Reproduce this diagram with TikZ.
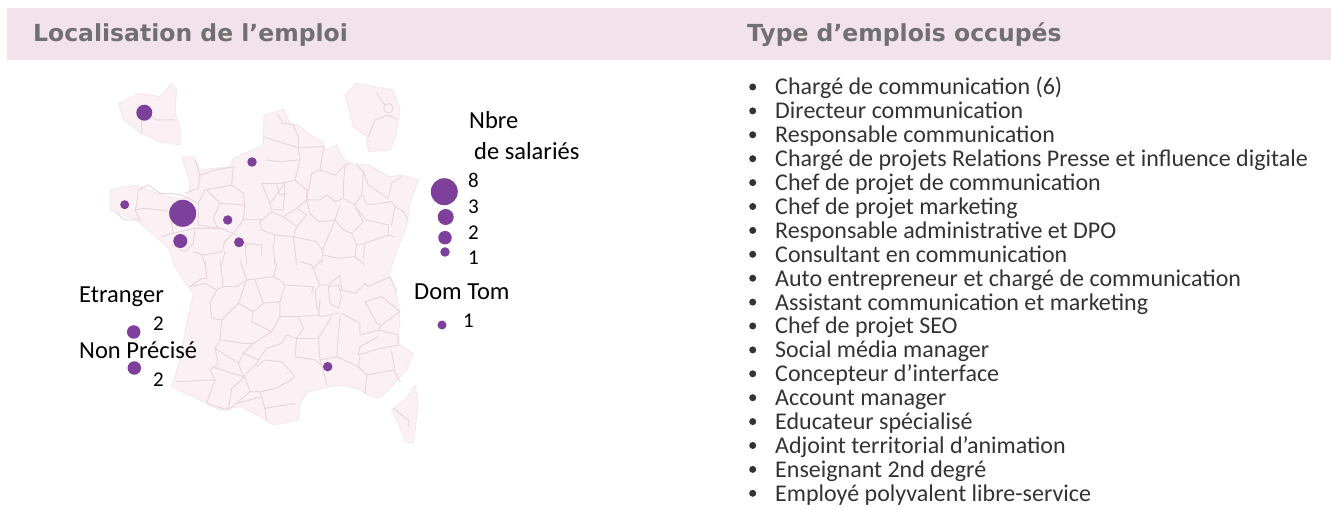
\documentclass[tikz,border=0pt]{standalone}
\usepackage{fontspec}
\setmainfont{Carlito}
\newfontfamily\headfont{DejaVu Sans}
\definecolor{band}{HTML}{F2E2EC}
\definecolor{headgrey}{HTML}{707070}
\definecolor{listgrey}{HTML}{333333}
\definecolor{landfill}{HTML}{FBF1F5}
\definecolor{landedge}{HTML}{F3E6EC}
\definecolor{landline}{HTML}{E8D5DD}
\definecolor{bubble}{HTML}{7D409B}
\tikzset{
  heading/.style={anchor=base west,inner sep=0pt,text=headgrey,font=\headfont\bfseries\fontsize{23.5}{23.5}\selectfont},
  itemtext/.style={anchor=base west,inner sep=0pt,text=listgrey,font=\fontsize{24}{24}\selectfont},
  dotmark/.style={circle,fill=listgrey,inner sep=0pt,minimum size=7pt},
  legendtext/.style={anchor=base west,inner sep=0pt,text=black,font=\fontsize{24.5}{24.5}\selectfont},
  legendnum/.style={anchor=base west,inner sep=0pt,text=black,font=\fontsize{21}{21}\selectfont},
  land/.style={fill=landfill,draw=landedge,line width=0.8pt,line join=round},
  dept/.style={draw=landline,line width=1pt,line join=round,line cap=round},
  bub/.style={circle,fill=bubble,inner sep=0pt,minimum size=#1}
}
\begin{document}
\begin{tikzpicture}[x=1pt,y=-1pt]
\useasboundingbox (0,0) rectangle (1331,510);
\fill[band] (7,8) rectangle (1331,60);
\node[heading] (h1) at (33,41.5) {Localisation de l’emploi};
\node[heading] (h2) at (747,41.5) {Type d’emplois occupés};

\begin{scope}[shift={(60,70)},x=0.33333pt,y=-0.33333pt]
% main land
\draw[land] (612,135)--(670,118)--(690,160)--(715,165)--(750,195)--(790,215)--(795,240)--(830,225)--(850,265)--(870,280)--(925,285)--(990,320)--(1030,315)--(1075,330)--(1050,400)--(1040,470)--(1010,540)--(985,620)--(1000,640)--(1015,700)--(1020,760)--(1010,810)--(1025,830)--(1060,850)--(1040,900)--(985,960)--(955,985)--(925,975)--(900,960)--(850,945)--(810,950)--(745,965)--(720,1000)--(715,1050)--(640,1065)--(600,1040)--(540,1010)--(480,1020)--(420,990)--(335,950)--(360,870)--(380,760)--(400,670)--(370,630)--(340,580)--(330,540)--(310,520)--(230,450)--(150,420)--(150,360)--(230,345)--(290,370)--(350,385)--(385,385)--(390,340)--(365,260)--(400,260)--(420,300)--(510,290)--(520,265)--(610,225)--cycle;
% Corsica
\draw[land] (1065,945)--(1075,1000)--(1060,1120)--(1035,1115)--(1015,1060)--(995,1020)--(1040,985)--cycle;
% insets
\draw[land] (175,100)--(240,70)--(300,80)--(335,40)--(350,60)--(345,130)--(360,170)--(360,225)--(300,215)--(245,190)--(190,150)--cycle;
\draw[land] (855,75)--(890,40)--(1000,60)--(1020,120)--(1010,190)--(990,240)--(925,245)--(920,200)--(880,170)--cycle;
\draw[dept] (245,190)--(245,120)--(290,150)--(345,150);
\draw[dept] (925,200)--(945,150)--(985,135)--(1015,150);
\draw[dept] (985,115) circle[radius=14];
\draw[dept] (950,70)--(975,105);
% north-east block
\begin{scope}[shift={(585,105)}]
\draw[dept] (65,25)--(85,55)--(115,60)--(130,95)--(130,128)--(205,125);
\draw[dept] (25,95)--(70,110)--(130,128);
\draw[dept] (130,128)--(135,165)--(120,225)--(155,255)--(155,285)--(125,310)--(85,335);
\draw[dept] (35,165)--(75,170)--(130,165);
\draw[dept] (20,235)--(80,235)--(120,225);
\draw[dept] (205,130)--(195,195)--(170,205)--(155,285);
\draw[dept] (195,195)--(240,210)--(270,180)--(285,175);
\draw[dept] (270,180)--(265,240)--(265,280)--(300,300)--(320,270)--(325,200)--(305,180);
\draw[dept] (325,200)--(340,240)--(400,280)--(410,235)--(440,215);
\draw[dept] (155,285)--(195,285)--(215,270)--(240,290)--(265,280);
\draw[dept] (155,285)--(165,325)--(190,350)--(240,345)--(255,300);
\draw[dept] (240,345)--(265,375)--(290,385)--(325,350)--(300,305);
\draw[dept] (325,270)--(335,300)--(410,290)--(420,305)--(410,360);
\draw[dept] (300,305)--(335,345)--(400,360)--(400,390)--(415,395);
\draw[dept] (125,310)--(155,330)--(125,365)--(115,395)--(185,410)--(205,440);
\draw[dept] (240,345)--(205,430)--(200,480);
\draw[dept] (290,385)--(305,420)--(330,415)--(400,390);
\draw[dept] (85,335)--(125,365);
\draw[dept] (15,350)--(50,320)--(85,335);
\draw[dept] (15,350)--(20,375)--(60,390)--(115,395);
\draw[dept] (60,390)--(55,430)--(60,480);
\draw[dept] (115,395)--(125,480);
\draw[dept] (205,450)--(250,460)--(300,455)--(305,420);
\draw[dept] (300,455)--(330,480);
\draw[dept] (330,415)--(325,460);
\draw[dept] (20,235)--(45,295)--(60,275)--(90,235);
\draw[dept] (45,295)--(50,315)--(85,315)--(90,240);
\draw[dept] (65,240)--(75,270)--(95,265);
\draw[dept] (420,305)--(445,320)--(460,345);
\end{scope}
% west block
\begin{scope}[shift={(135,105)}]
\draw[dept] (100,255)--(95,300)--(90,315)--(115,310)--(160,315)--(195,320);
\draw[dept] (100,255)--(130,240)--(165,265)--(200,265)--(230,270);
\draw[dept] (90,315)--(105,345)--(60,345)--(35,325);
\draw[dept] (195,320)--(205,385)--(170,395);
\draw[dept] (230,270)--(280,295)--(300,255)--(380,240)--(385,185);
\draw[dept] (270,165)--(285,210)--(280,250)--(240,265);
\draw[dept] (285,210)--(330,195)--(385,185);
\draw[dept] (380,240)--(415,265)--(420,305);
\draw[dept] (305,255)--(345,295);
\draw[dept] (280,295)--(280,360)--(340,370);
\draw[dept] (345,295)--(325,340)--(335,365)--(385,385)--(415,345)--(420,300)--(345,295);
\draw[dept] (205,385)--(270,370)--(340,370);
\draw[dept] (270,370)--(265,415)--(240,440)--(200,420);
\draw[dept] (265,440)--(295,450)--(350,440)--(360,410)--(385,385);
\draw[dept] (360,440)--(350,480);
\draw[dept] (290,450)--(300,480);
\draw[dept] (415,345)--(470,345);
\draw[dept] (385,385)--(420,415)--(470,420)--(470,450);
\draw[dept] (420,415)--(425,480);
\end{scope}
% south-west block
\begin{scope}[shift={(315,570)}]
\draw[dept] (75,80)--(110,55)--(125,55)--(120,0);
\draw[dept] (75,80)--(120,70)--(155,90)--(135,130)--(140,175)--(170,180)--(165,240)--(150,265)--(160,310)--(135,330)--(150,360);
\draw[dept] (155,90)--(175,80)--(165,0);
\draw[dept] (175,80)--(215,80)--(245,60)--(225,0);
\draw[dept] (245,60)--(325,50)--(335,15)--(330,0);
\draw[dept] (245,60)--(220,130)--(265,155)--(295,130)--(270,60);
\draw[dept] (295,130)--(345,125)--(360,75)--(345,60)--(325,50);
\draw[dept] (220,130)--(170,180);
\draw[dept] (265,155)--(260,185)--(320,215)--(345,170)--(345,125);
\draw[dept] (345,170)--(400,170)--(415,205)--(395,235)--(365,225)--(350,250)--(305,265);
\draw[dept] (320,215)--(265,250)--(235,280);
\draw[dept] (170,240)--(235,250)--(265,250);
\draw[dept] (150,265)--(220,310)--(235,280)--(280,300)--(305,265);
\draw[dept] (220,310)--(235,350)--(140,320);
\draw[dept] (235,350)--(275,310)--(280,300);
\draw[dept] (275,320)--(300,300)--(350,305)--(390,350)--(370,365)--(330,385)--(290,395);
\draw[dept] (395,235)--(390,290)--(450,300)--(470,315);
\draw[dept] (395,235)--(455,235);
\draw[dept] (400,170)--(460,165)--(465,120);
\draw[dept] (360,75)--(445,80)--(440,100);
\draw[dept] (150,360)--(35,365);
\draw[dept] (150,360)--(125,430)--(190,450)--(200,385)--(240,350);
\draw[dept] (190,450)--(255,395)--(240,350);
\draw[dept] (255,395)--(285,395)--(300,445)--(390,430);
\draw[dept] (215,430)--(290,410);
\draw[dept] (305,480)--(300,445);
\end{scope}
% south-east block
\begin{scope}[shift={(720,570)}]
\draw[dept] (0,5)--(35,15)--(60,75)--(85,75)--(120,45);
\draw[dept] (40,25)--(65,0);
\draw[dept] (115,75)--(125,110)--(115,145)--(90,130)--(85,80)--cycle;
\draw[dept] (60,75)--(45,90)--(50,140)--(60,170)--(115,160);
\draw[dept] (120,45)--(125,90)--(165,100)--(195,70)--(205,80)--(270,50)--(290,95);
\draw[dept] (195,125)--(245,110)--(300,155)--(245,195)--(230,190)--cycle;
\draw[dept] (125,160)--(180,190)--(180,225)--(235,210)--(245,195);
\draw[dept] (120,170)--(110,290);
\draw[dept] (110,290)--(60,300)--(55,235)--(95,170);
\draw[dept] (235,210)--(295,225)--(295,255)--(240,265)--(175,285)--(180,260)--(235,230);
\draw[dept] (110,290)--(175,320)--(200,345)--(195,400);
\draw[dept] (60,300)--(75,350)--(80,375);
\draw[dept] (200,345)--(280,330)--(300,365);
\draw[dept] (275,275)--(285,330);
\draw[dept] (175,320)--(180,290);
\draw[dept] (280,445)--(325,480)--(325,500);
\end{scope}
\end{scope}

% bubbles
\node[bub=16pt] (b1) at (144.3,112.7) {};
\node[bub=9.5pt] (b2) at (252,162) {};
\node[bub=9pt] (b3) at (124.7,204.7) {};
\node[bub=27pt] (b4) at (182.7,213.3) {};
\node[bub=9.5pt] (b5) at (227.7,220) {};
\node[bub=14pt] (b6) at (180.3,241) {};
\node[bub=10pt] (b7) at (239,242.3) {};
\node[bub=9.5pt] (b8) at (327.7,366.7) {};
\node[bub=27pt] (l8) at (444.3,191.7) {};
\node[bub=16pt] (l3) at (445.7,217) {};
\node[bub=13.5pt] (l2) at (445,237.7) {};
\node[bub=9.5pt] (l1) at (445,252) {};
\node[bub=13.5pt] (b9) at (133.7,332) {};
\node[bub=13.5pt] (b10) at (134.3,368) {};
\node[bub=9pt] (b11) at (442,325) {};

% legend
\node[legendtext] (t1) at (469,128.3) {Nbre};
\node[legendtext] (t2) at (474,159.3) {de salariés};
\node[legendnum] (n8) at (468,187.3) {8};
\node[legendnum] (n3) at (468,213.3) {3};
\node[legendnum] (n2) at (468,239.3) {2};
\node[legendnum] (n1) at (468,265) {1};
\node[legendtext] (t3) at (79,303) {Etranger};
\node[legendnum] (n4) at (153,330.7) {2};
\node[legendtext] (t4) at (79,358.3) {Non Précisé};
\node[legendnum] (n5) at (153,387) {2};
\node[legendtext] (t5) at (414,300) {Dom Tom};
\node[legendnum] (n6) at (463,327.7) {1};

% list
\foreach \txt [count=\i] in {
  Chargé de communication (6),
  Directeur communication,
  Responsable communication,
  Chargé de projets Relations Presse et influence digitale,
  Chef de projet de communication,
  Chef de projet marketing,
  Responsable administrative et DPO,
  Consultant en communication,
  Auto entrepreneur et chargé de communication,
  Assistant communication et marketing,
  Chef de projet SEO,
  Social média manager,
  Concepteur d’interface,
  Account manager,
  Educateur spécialisé,
  Adjoint territorial d’animation,
  Enseignant 2nd degré,
  Employé polyvalent libre-service}{
  \pgfmathsetmacro{\yy}{87+(\i-1)*23.9}
  \node[dotmark] (d\i) at (752.7,\yy) {};
  \node[itemtext] (it\i) at (775,\yy+8) {\txt};
}
\end{tikzpicture}
\end{document}
